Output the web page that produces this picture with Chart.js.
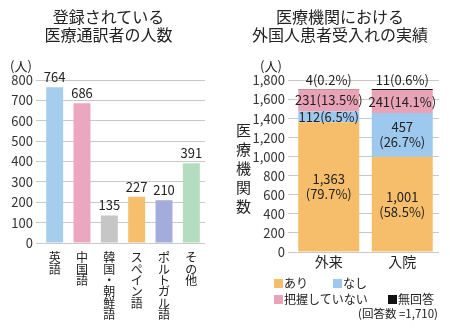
<!DOCTYPE html>
<html>
<head>
<meta charset="utf-8">
<script src="https://cdn.jsdelivr.net/npm/chart.js@4"></script>
<style>
  body { margin: 0; background: #fff; font-family: "Noto Sans CJK JP", sans-serif; color: #222; }
  #wrap { position: relative; width: 450px; height: 328px; overflow: hidden; }
  .abs { position: absolute; white-space: nowrap; }
  .title { font-size: 16px; line-height: 18px; text-align: center; }
  .unit { font-size: 13px; }
  .sq { display: inline-block; width: 9px; height: 9px; margin-right: 1px; vertical-align: -0px; }
  .leg { font-size: 12px; }
</style>
</head>
<body>
<div id="wrap">
  <canvas id="c1" width="225" height="328" class="abs" style="left:0;top:0"></canvas>
  <canvas id="c2" width="225" height="328" class="abs" style="left:225px;top:0"></canvas>

  <div class="abs title" style="left:0;top:7px;width:217px">登録されている<br>医療通訳者の人数</div>
  <div class="abs title" style="left:225px;top:7px;width:230px">医療機関における<br>外国人患者受入れの実績</div>
  <div class="abs unit" style="left:10px;top:56px">(人)</div>
  <div class="abs unit" style="left:260px;top:56px">(人)</div>
  <div class="abs" style="left:233px;top:123px;font-size:15px;writing-mode:vertical-rl;letter-spacing:4px">医療機関数</div>

  <div class="abs leg" style="left:274px;top:274px"><span class="sq" style="background:#f6bd6b"></span>あり</div>
  <div class="abs leg" style="left:333px;top:274px"><span class="sq" style="background:#9ec9ee"></span>なし</div>
  <div class="abs leg" style="left:274px;top:290px"><span class="sq" style="background:#e9a3b7"></span>把握していない</div>
  <div class="abs leg" style="left:388px;top:290px"><span class="sq" style="background:#111"></span>無回答</div>
  <div class="abs leg" style="left:358px;top:305px;font-size:11.5px">(回答数 =1,710)</div>
</div>
<script>
// left chart: registered interpreters
const languages = ['英語', '中国語', '韓国・朝鮮語', 'スペイン語', 'ポルトガル語', 'その他'];
const interpreters = [764, 686, 135, 227, 210, 391];
const langColors = ['#a5cdee', '#eba7bf', '#c6c6c6', '#f6bf6d', '#a3acdb', '#b4dcbf'];

// right chart: hospitals accepting foreign patients
const careTypes = ['外来', '入院'];
const yesCounts = [1363, 1001];
const noCounts = [112, 457];
const unknownCounts = [231, 241];
const blankCounts = [4, 11];
const yesPct = ['79.7', '58.5'];
const noPct = ['6.5', '26.7'];
const unknownPct = ['13.5', '14.1'];
const blankPct = ['0.2', '0.6'];

const FONT = '"Noto Sans CJK JP", sans-serif';
const gridColor = '#c9c9c9';
const tickColor = '#333';

let valueLabels = {
    id: 'valueLabels',
    afterDatasetsDraw(chart) {
        let ctx = chart.ctx;
        let meta = chart.getDatasetMeta(0);
        ctx.save();
        ctx.font = '13px ' + FONT;
        ctx.fillStyle = '#222';
        ctx.textAlign = 'center';
        ctx.textBaseline = 'alphabetic';
        meta.data.forEach((bar, i) => {
            ctx.fillText(String(interpreters[i]), bar.x, bar.y - 5);
        });
        ctx.restore();
    }
};

new Chart(document.getElementById('c1'), {
    type: 'bar',
    data: {
        labels: languages.map(s => s.split('')),
        datasets: [{
            data: interpreters,
            backgroundColor: langColors,
            borderWidth: 0,
            barPercentage: 0.62,
            categoryPercentage: 1,
        }]
    },
    options: {
        responsive: false,
        animation: false,
        layout: { padding: { top: 80, right: 20, left: 0, bottom: 0 } },
        plugins: { legend: { display: false }, tooltip: { enabled: false } },
        scales: {
            x: {
                grid: { display: false, drawTicks: false },
                border: { display: false },
                ticks: {
                    color: '#222',
                    font: { family: FONT, size: 12, lineHeight: 0.95 },
                    padding: 9,
                    maxRotation: 0,
                    autoSkip: false,
                },
                afterFit(scale) { scale.height = 85; },
            },
            y: {
                min: 0,
                max: 800,
                grid: { color: gridColor, tickLength: 5, tickColor: gridColor },
                border: { display: false },
                ticks: {
                    stepSize: 100,
                    color: tickColor,
                    font: { family: FONT, size: 13 },
                    padding: 3,
                },
                afterFit(scale) { scale.width = 41; },
            },
        },
    },
    plugins: [valueLabels],
});

let stackLabels = {
    id: 'stackLabels',
    afterDatasetsDraw(chart) {
        let ctx = chart.ctx;
        let counts = [yesCounts, noCounts, unknownCounts, blankCounts];
        let pcts = [yesPct, noPct, unknownPct, blankPct];
        ctx.save();
        ctx.font = '13px ' + FONT;
        ctx.fillStyle = '#222';
        ctx.textAlign = 'center';
        ctx.textBaseline = 'middle';
        for (let d = 0; d < 4; d++) {
            let meta = chart.getDatasetMeta(d);
            meta.data.forEach((bar, i) => {
                let num = counts[d][i].toLocaleString('en-US');
                let pct = '(' + pcts[d][i] + '%)';
                if (d == 3) {
                    ctx.fillText(num + pct, bar.x, bar.y - 9);
                    return;
                }
                let mid = (bar.y + bar.base) / 2;
                if (bar.base - bar.y > 35) {
                    ctx.fillText(num, bar.x, mid - 7.5);
                    ctx.fillText(pct, bar.x, mid + 7.5);
                } else {
                    ctx.fillText(num + pct, bar.x, mid);
                }
            });
        }
        ctx.restore();
    }
};

new Chart(document.getElementById('c2'), {
    type: 'bar',
    data: {
        labels: careTypes,
        datasets: [
            { label: 'あり', data: yesCounts, backgroundColor: '#f6bd6b' },
            { label: 'なし', data: noCounts, backgroundColor: '#9ec9ee' },
            { label: '把握していない', data: unknownCounts, backgroundColor: '#e9a3b7' },
            { label: '無回答', data: blankCounts, backgroundColor: '#111' },
        ].map(ds => Object.assign(ds, { borderWidth: 0, barPercentage: 0.83, categoryPercentage: 1 }))
    },
    options: {
        responsive: false,
        animation: false,
        layout: { padding: { top: 80.5, right: 11, left: 0, bottom: 0 } },
        plugins: { legend: { display: false }, tooltip: { enabled: false } },
        scales: {
            x: {
                stacked: true,
                grid: { display: false, drawTicks: false },
                border: { display: false },
                ticks: {
                    color: '#222',
                    font: { family: FONT, size: 14, lineHeight: 1 },
                    padding: 3,
                },
                afterFit(scale) { scale.height = 76; },
            },
            y: {
                stacked: true,
                min: 0,
                max: 1800,
                grid: { color: gridColor, tickLength: 4, tickColor: gridColor },
                border: { display: false },
                ticks: {
                    stepSize: 200,
                    color: tickColor,
                    font: { family: FONT, size: 13 },
                    padding: 3,
                    callback: v => v.toLocaleString('en-US'),
                },
                afterFit(scale) { scale.width = 67; },
            },
        },
    },
    plugins: [stackLabels],
});
</script>
</body>
</html>
